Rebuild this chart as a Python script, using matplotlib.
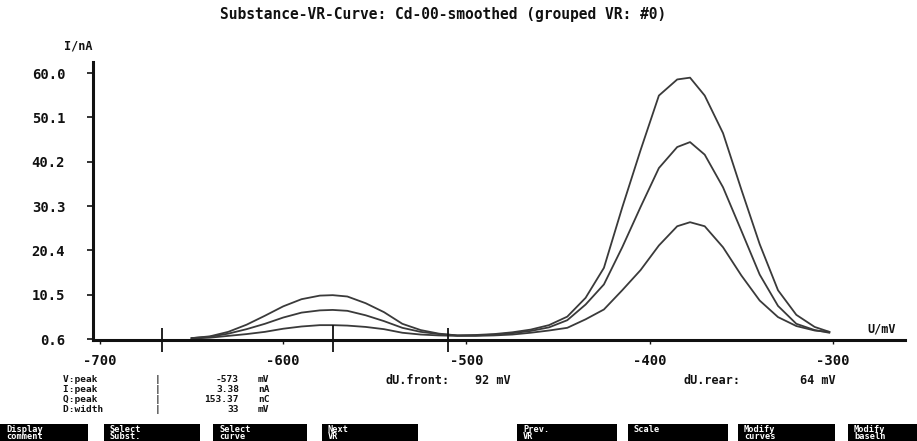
import matplotlib
matplotlib.use("Agg")
import matplotlib.pyplot as plt
from matplotlib.patches import Rectangle

# potential grid (mV) and the three smoothed VR curves (nA)
u_mv = [-650, -640, -630, -620, -610, -600, -590, -580, -573, -565, -555, -545,
        -535, -525, -515, -505, -495, -485, -475, -465, -455, -445, -435, -425,
        -415, -405, -395, -385, -378, -370, -360, -350, -340, -330, -320, -310, -302]
curve_a = [0.8, 1.2, 2.2, 3.8, 5.8, 7.9, 9.5, 10.3, 10.4, 10.1, 8.6, 6.6,
           4.0, 2.6, 1.8, 1.4, 1.5, 1.7, 2.1, 2.7, 3.7, 5.6, 9.8, 16.5,
           30.0, 42.8, 55.0, 58.6, 59.0, 55.0, 46.6, 34.0, 21.8, 11.5, 6.0, 3.3, 2.2]
curve_b = [0.8, 1.1, 1.8, 2.8, 4.0, 5.4, 6.5, 7.0, 7.1, 6.9, 5.9, 4.6,
           3.1, 2.2, 1.7, 1.4, 1.4, 1.6, 1.9, 2.4, 3.2, 4.8, 8.3, 12.8,
           21.1, 30.1, 38.8, 43.5, 44.6, 41.8, 34.5, 24.8, 15.0, 8.0, 4.0, 2.6, 2.0]
curve_c = [0.7, 0.9, 1.3, 1.7, 2.2, 2.9, 3.4, 3.7, 3.7, 3.6, 3.3, 2.8,
           2.0, 1.6, 1.4, 1.3, 1.3, 1.4, 1.6, 2.0, 2.5, 3.1, 5.0, 7.2,
           11.5, 16.0, 21.5, 25.8, 26.7, 25.8, 21.1, 14.8, 9.2, 5.5, 3.5, 2.5, 2.2]

y_ticks = [60.0, 50.1, 40.2, 30.3, 20.4, 10.5, 0.6]
x_ticks = [-700, -600, -500, -400, -300]
# peak window markers: left bound, peak, right bound
marker_mv = [-666, -573, -510]
marker_top = [3.0, 3.8, 3.0]

stat_names = ["V:peak", "I:peak", "Q:peak", "D:width"]
stat_values = ["-573", "3.38", "153.37", "33"]
stat_units = ["mV", "nA", "nC", "mV"]

button_labels = [("Display", "comment"), ("Select", "Subst."), ("Select", "curve"),
                 ("Next", "VR"), ("Prev.", "VR"), ("Scale", ""),
                 ("Modify", "curves"), ("Modify", "baseln")]
button_left_px = [0, 104, 213, 322, 517, 628, 738, 848]
button_width_px = [88, 96, 94, 96, 100, 100, 97, 69]

FONT = "DejaVu Sans Mono"
INK = "#111111"
CURVE = "#3a3a3a"
W, H = 917, 441


def _fx(px):
    return px / W


def _fy(py):
    return 1 - py / H


def main():
    fig = plt.figure(figsize=(W / 100, H / 100), dpi=100, facecolor="white")

    # axes span: y axis at x=93px, x axis at y=340px
    ax = fig.add_axes([_fx(93), _fy(340), _fx(905 - 93), (340 - 62) / H])
    ax.set_facecolor("white")

    for ys in (curve_a, curve_b, curve_c):
        ax.plot(u_mv, ys, color=CURVE, linewidth=1.3, solid_joinstyle="round")

    ax.vlines(marker_mv, -2.2, marker_top, color=INK, linewidth=1.3, clip_on=False)

    ax.set_xlim(-703.8, -260.7)
    ax.set_ylim(0.38, 62.5)

    for side in ("top", "right"):
        ax.spines[side].set_visible(False)
    for side in ("left", "bottom"):
        ax.spines[side].set_linewidth(2.2)
        ax.spines[side].set_color(INK)

    ax.set_yticks(y_ticks)
    ax.set_yticklabels([f"{v:.1f}" for v in y_ticks])
    ax.set_xticks(x_ticks)
    ax.set_xticklabels([str(v) for v in x_ticks])
    ax.tick_params(axis="y", direction="out", length=4, width=1.2, pad=16,
                   labelsize=10, colors=INK)
    ax.tick_params(axis="x", direction="out", length=3, width=1.0, pad=7,
                   labelsize=10, colors=INK)
    for lab in ax.get_xticklabels() + ax.get_yticklabels():
        lab.set_fontfamily(FONT)
        lab.set_fontweight("bold")

    txt = dict(family=FONT, weight="bold", color=INK)
    fig.text(_fx(443), _fy(14), "Substance-VR-Curve: Cd-00-smoothed (grouped VR: #0)",
             ha="center", va="center", fontsize=10.5, **txt)
    fig.text(_fx(78), _fy(46), "I/nA", ha="center", va="center", fontsize=8.5, **txt)
    fig.text(_fx(882), _fy(329), "U/mV", ha="center", va="center", fontsize=8.5, **txt)

    # peak statistics block, tight rows like the instrument screen
    for i, (name, val, unit) in enumerate(zip(stat_names, stat_values, stat_units)):
        y = _fy(379 + i * 10)
        fig.text(_fx(63), y, f"{name:<16}|", ha="left", va="center", fontsize=6.8, **txt)
        fig.text(_fx(239), y, val, ha="right", va="center", fontsize=6.8, **txt)
        fig.text(_fx(258), y, unit, ha="left", va="center", fontsize=6.8, **txt)

    fig.text(_fx(385), _fy(381), "dU.front:", ha="left", va="center", fontsize=8.5, **txt)
    fig.text(_fx(475), _fy(381), "92 mV", ha="left", va="center", fontsize=8.5, **txt)
    fig.text(_fx(683), _fy(381), "dU.rear:", ha="left", va="center", fontsize=8.5, **txt)
    fig.text(_fx(800), _fy(381), "64 mV", ha="left", va="center", fontsize=8.5, **txt)

    # soft-key bar at the bottom (cut off by the screen edge)
    btn = dict(ha="left", va="center", fontsize=6.2, family=FONT, weight="bold",
               color="white")
    for (l1, l2), left, width in zip(button_labels, button_left_px, button_width_px):
        fig.patches.append(Rectangle((_fx(left), 0), _fx(width), _fy(424),
                                     transform=fig.transFigure, facecolor="black",
                                     edgecolor="none"))
        fig.text(_fx(left + 6), _fy(429), l1, **btn)
        if l2:
            fig.text(_fx(left + 6), _fy(436.5), l2, **btn)

    fig.savefig("out.png", dpi=100, facecolor="white")
    plt.close(fig)


if __name__ == "__main__":
    main()
